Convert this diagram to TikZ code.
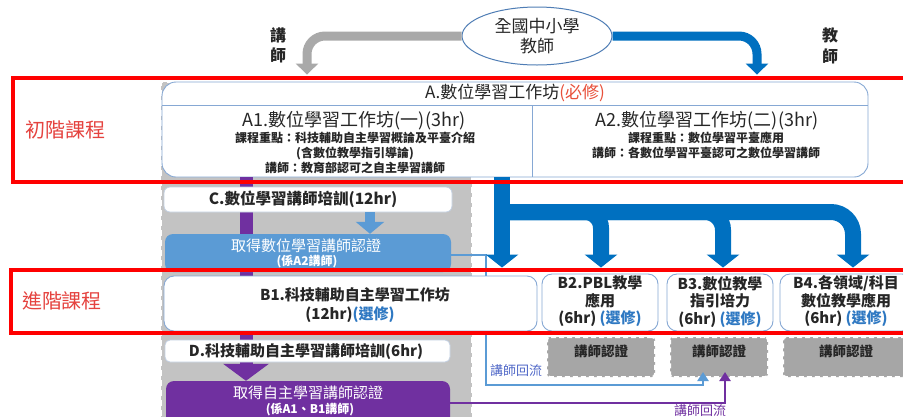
\documentclass[tikz,border=0pt]{standalone}
\usepackage{fontspec}
\setmainfont{Noto Sans CJK TC}
\usetikzlibrary{arrows.meta,shapes.geometric,calc}
\definecolor{redfr}{HTML}{FF0000}
\definecolor{lblred}{HTML}{E5433F}
\definecolor{mustred}{HTML}{E8503A}
\definecolor{optblue}{HTML}{2E78C2}
\definecolor{boxborder}{HTML}{86A8D4}
\definecolor{lightborder}{HTML}{C3D0E2}
\definecolor{colgray}{HTML}{C3C3C3}
\definecolor{certgray}{HTML}{A6A6A6}
\definecolor{dblue}{HTML}{0070C0}
\definecolor{lblue}{HTML}{5B9BD5}
\definecolor{purp}{HTML}{7030A0}
\definecolor{arrgray}{HTML}{A9A9A9}
\definecolor{flowtxt}{HTML}{5068C8}
\definecolor{txtdark}{HTML}{262626}
\definecolor{ellborder}{HTML}{4F7DB5}
\newcommand\myfs[1]{\fontsize{#1}{#1}\selectfont}
\begin{document}
\begin{tikzpicture}[x=1pt,y=-1pt,
  wbox/.style={draw=boxborder,line width=0.9pt,fill=white,inner sep=0pt,rounded corners=10pt},
  lbox/.style={draw=lightborder,line width=0.8pt,fill=white,inner sep=0pt,rounded corners=6pt},
  colbox/.style={fill=colgray,draw=white,line width=2pt,dash pattern=on 6pt off 4pt,inner sep=0pt},
  certbox/.style={fill=certgray,draw=white,line width=2pt,dash pattern=on 5pt off 3pt,inner sep=0pt,rounded corners=3pt},
  txt/.style={inner sep=0pt,text=txtdark},
  wtxt/.style={inner sep=0pt,text=white},
  bigblue/.style={draw=dblue,line width=16pt,-{Triangle[width=32pt,length=13pt]}},
  toparr/.style={line width=9pt,rounded corners=18pt,-{Triangle[width=22pt,length=11pt]}},
  flowline/.style={line width=2.5pt,-{Triangle[width=11pt,length=9pt]}},
  redframe/.style={draw=redfr,line width=4pt}
]
\fill[white] (0,0) rectangle (903,416);
\useasboundingbox (0,0) rectangle (903,416);

% gray column
\node[colbox,minimum width=311,minimum height=350] (col) at (316.5,257) {};

% certification boxes
\node[certbox,minimum width=108,minimum height=40] (c2) at (601,357) {};
\node[certbox,minimum width=98,minimum height=40] (c3) at (719,357) {};
\node[certbox,minimum width=126,minimum height=40] (c4) at (846,357) {};
\node[txt,font=\bfseries\myfs{13.5}] (c2t) at (601,351) {講師認證};
\node[txt,font=\bfseries\myfs{13.5}] (c3t) at (719,351) {講師認證};
\node[txt,font=\bfseries\myfs{13.5}] (c4t) at (846,351) {講師認證};

% A box
\node[wbox,rounded corners=14pt,minimum width=706,minimum height=95] (A) at (515,129.5) {};
\coordinate (hl) at (0,105);
\draw[boxborder,line width=0.9pt] (A.west |- hl) -- (A.east |- hl);
\coordinate (vd) at (532,105);
\draw[boxborder,line width=0.9pt] (vd) -- (vd |- A.south);
\node[txt,font=\myfs{17}] (At) at (515,93) {A.數位學習工作坊{\color{mustred}(必修)}};
\node[txt,font=\myfs{18}] (A1t) at (354,120.5) {A1.數位學習工作坊(一)(3hr)};
\node[txt,align=center,font=\bfseries\fontsize{12}{15}\selectfont] (A1s) at (355,152.5) {課程重點：科技輔助自主學習概論及平臺介紹\\(含數位教學指引導論)\\講師：教育部認可之自主學習講師};
\node[txt,font=\myfs{18}] (A2t) at (707,120.5) {A2.數位學習工作坊(二)(3hr)};
\node[txt,align=center,font=\bfseries\fontsize{12}{15}\selectfont] (A2s) at (706,145) {課程重點：數位學習平臺應用\\講師：各數位學習平臺認可之數位學習講師};

% purple certification box
\node[fill=purp,inner sep=0pt,rounded corners=8pt,minimum width=284,minimum height=44] (pcert) at (308,403) {};
\node[wtxt,font=\myfs{15}] (pc1) at (308,392.5) {取得自主學習講師認證};
\node[wtxt,font=\bfseries\myfs{12}] (pc2) at (310,410) {(係A1、B1講師)};

% purple main arrow
\coordinate (px) at (246,0);
\draw[purp,line width=13pt,-{Triangle[width=45pt,length=17pt]}] (A.south -| px) -- (pcert.north -| px);

% C, light blue cert, D
\node[lbox,minimum width=288,minimum height=25] (C) at (308,199.5) {};
\node[txt,font=\bfseries\myfs{15.5}] (Ct) at (303,199.5) {C.數位學習講師培訓(12hr)};
\node[fill=lblue,inner sep=0pt,rounded corners=8pt,minimum width=286,minimum height=38] (lcert) at (308,253) {};
\node[wtxt,font=\myfs{15}] (lc1) at (306,246) {取得數位學習講師認證};
\node[wtxt,font=\bfseries\myfs{12}] (lc2) at (307,262) {(係A2講師)};
\node[lbox,rounded corners=5pt,minimum width=285,minimum height=22] (D) at (307.5,351) {};
\node[txt,font=\bfseries\myfs{15}] (Dt) at (306,351.5) {D.科技輔助自主學習講師培訓(6hr)};

% light blue arrow C -> cert
\coordinate (lx) at (370,0);
\draw[lblue,line width=10pt,-{Triangle[width=28pt,length=12pt]}] (C.south -| lx) -- (lcert.north -| lx);

% flow-back connectors
\coordinate (fb) at (486,385);
\draw[lblue,flowline] ($(lcert.east)+(0,2)$) -| (fb) -| ($(c3.south)+(-16,-6)$);
\draw[purp,flowline] (pcert.east) -| ($(c3.south)+(6,-6)$);
\node[inner sep=0pt,text=flowtxt,font=\myfs{13}] (fl1) at (516,371) {講師回流};
\node[inner sep=0pt,text=purp,font=\myfs{13}] (fl2) at (700,411) {講師回流};

% B boxes
\node[wbox,minimum width=373,minimum height=55] (B1) at (350.5,303.5) {};
\node[txt,font=\bfseries\myfs{15}] (B1a) at (355,295) {B1.科技輔助自主學習工作坊};
\node[txt,font=\bfseries\myfs{15}] (B1b) at (350,314.5) {(12hr){\color{optblue}(選修)}};
\node[wbox,minimum width=116,minimum height=57] (B2) at (600,302.5) {};
\node[txt,align=center,font=\bfseries\fontsize{15}{17.5}\selectfont] (B2t) at (600,301.5) {B2.PBL教學\\應用\\(6hr) {\color{optblue}(選修)}};
\node[wbox,minimum width=106,minimum height=57] (B3) at (720,302.5) {};
\node[txt,align=center,font=\bfseries\fontsize{15}{17.5}\selectfont] (B3t) at (720,301.5) {B3.數位教學\\指引培力\\(6hr) {\color{optblue}(選修)}};
\node[wbox,minimum width=132,minimum height=57] (B4) at (846,302.5) {};
\node[txt,align=center,font=\bfseries\fontsize{15}{17.5}\selectfont] (B4t) at (846,301.5) {B4.各領域/科目\\數位教學應用\\(6hr) {\color{optblue}(選修)}};

% blue distribution arrows
\coordinate (hx) at (502,212);
\draw[bigblue] (A.south -| hx) -- ($(B1.north -| hx)+(0,-8)$);
\draw[bigblue,rounded corners=16pt] (hx) -| ($(B2.north)+(1,-6)$);
\draw[bigblue,rounded corners=18pt] (hx) -| ($(B3.north)+(3,-6)$);
\draw[bigblue,rounded corners=22pt] (hx) -| ($(B4.north)+(7,-6)$);

% top ellipse and arrows
\node[ellipse,draw=ellborder,line width=1pt,fill=white,inner sep=0pt,minimum width=150,minimum height=58,align=center,text=txtdark,font=\fontsize{17}{20}\selectfont] (T) at (537,36) {全國中小學\\教師};
\coordinate (gx) at (307,0);
\coordinate (bx) at (757,0);
\draw[arrgray,toparr] (T.west) -| ($(A.north -| gx)+(0,-7)$);
\draw[dblue,toparr] (T.east) -| ($(A.north -| bx)+(0,-7)$);
\node[txt,align=center,font=\bfseries\fontsize{16}{20}\selectfont] (lt) at (278,45) {講\\師};
\node[txt,align=center,font=\bfseries\fontsize{16}{21}\selectfont] (rt) at (830,45.5) {教\\師};

% red frames
\draw[redframe] (13,78) rectangle (915,182);
\draw[redframe] (11,269.5) rectangle (915,333);
\node[inner sep=0pt,text=lblred,font=\myfs{20}] (lab1) at (65,130) {初階課程};
\node[inner sep=0pt,text=lblred,font=\myfs{20}] (lab2) at (62,301) {進階課程};
\end{tikzpicture}
\end{document}
